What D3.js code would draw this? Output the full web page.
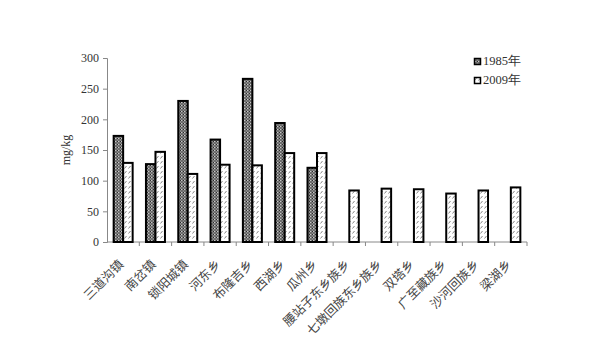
<!DOCTYPE html>
<html><head><meta charset="utf-8">
<script src="https://cdn.jsdelivr.net/npm/d3@7"></script>
<style>
html,body{margin:0;padding:0;background:#fff;}
svg{display:block;}
</style></head>
<body>
<svg id="c" width="609" height="356"></svg>
<script>
const categories = ["三道沟镇","南岔镇","锁阳城镇","河东乡","布隆吉乡","西湖乡","瓜州乡","腰站子东乡族乡","七墩回族东乡族乡","双塔乡","广至藏族乡","沙河回族乡","梁湖乡"];
const series = ["1985年","2009年"];
const values1985 = [173,127,230,167,266,194,121,0,0,0,0,0,0];
const values2009 = [129,147,111,126,125,145,145,84,87,86,79,84,89];
const yTicks = [0,50,100,150,200,250,300];
const yLabel = "mg/kg";

(function(){
const svg = d3.select("#c");
const defs = svg.append("defs");
const p1 = defs.append("pattern").attr("id","p1985").attr("patternUnits","userSpaceOnUse").attr("width",3).attr("height",3);
p1.append("rect").attr("width",3).attr("height",3).attr("fill","#858585");
p1.append("rect").attr("x",0).attr("y",0).attr("width",1).attr("height",1).attr("fill","#2a2a2a");
p1.append("rect").attr("x",1.5).attr("y",1.5).attr("width",1).attr("height",1).attr("fill","#2a2a2a");
p1.append("rect").attr("x",1).attr("y",0).attr("width",1).attr("height",1).attr("fill","#c8c8c8");
const p2 = defs.append("pattern").attr("id","p2009").attr("patternUnits","userSpaceOnUse").attr("width",4).attr("height",5);
p2.append("rect").attr("width",4).attr("height",5).attr("fill","#fff");
p2.append("line").attr("x1",0.5).attr("y1",3.5).attr("x2",2.5).attr("y2",1).attr("stroke","#777").attr("stroke-width",0.9);

const mLeft = 107, mRight = 527, mTop = 58, mBottom = 242;
const x = d3.scaleBand().domain(categories).range([mLeft,mRight]).paddingInner(0).paddingOuter(0);
const y = d3.scaleLinear().domain([0,300]).range([mBottom,mTop]);
const barW = 9.5;
const inner = d3.scaleBand().domain(series).range([0,barW*2]);

const font = "'Liberation Serif','Times New Roman',serif";
const cjk = "'Noto Sans CJK SC',sans-serif";

const yAxis = svg.append("g").attr("transform",`translate(${mLeft},0)`)
  .call(d3.axisLeft(y).tickValues(yTicks).tickSize(4).tickPadding(4));
yAxis.select(".domain").attr("stroke","#888");
yAxis.selectAll(".tick line").attr("stroke","#888");
yAxis.selectAll(".tick text").attr("font-family",font).attr("font-size",12).attr("fill","#333");

const xg = svg.append("g").attr("transform",`translate(0,${mBottom})`);
xg.append("line").attr("x1",mLeft).attr("x2",mRight).attr("stroke","#888");
xg.selectAll("line.t").data(categories).enter().append("line").attr("class","t")
  .attr("x1",d=>x(d)+x.bandwidth()).attr("x2",d=>x(d)+x.bandwidth())
  .attr("y1",0).attr("y2",4).attr("stroke","#888");

const off = (x.bandwidth()-barW*2)/2;
const g = svg.append("g");
categories.forEach((c,i)=>{
  const vals = [values1985[i], values2009[i]];
  series.forEach((s,j)=>{
    const v = vals[j];
    if(!v) return;
    g.append("rect")
      .attr("x", x(c)+off+inner(s))
      .attr("y", y(v))
      .attr("width", inner.bandwidth())
      .attr("height", y(0)-y(v))
      .attr("fill", j===0 ? "url(#p1985)" : "url(#p2009)")
      .attr("stroke","#000").attr("stroke-width",2);
  });
});

svg.append("g").selectAll("text").data(categories).enter().append("text")
  .attr("transform", d=>`translate(${x(d)+x.bandwidth()/2-5},${mBottom+17}) rotate(-45)`)
  .attr("text-anchor","end").attr("dy","0.7em")
  .attr("font-family",cjk).attr("font-size",12.5).attr("fill","#444")
  .text(d=>d);

svg.append("text").attr("transform",`translate(70,${(mTop+mBottom)/2}) rotate(-90)`)
  .attr("text-anchor","middle").attr("font-family",font).attr("font-size",12).attr("fill","#333")
  .text(yLabel);

const lg = svg.append("g").attr("transform","translate(474,58)");
series.forEach((s,j)=>{
  const row = lg.append("g").attr("transform",`translate(0,${j*19})`);
  row.append("rect").attr("x",0.5).attr("y",0.5).attr("width",6).attr("height",6)
    .attr("fill", j===0 ? "url(#p1985)" : "url(#p2009)").attr("stroke","#000").attr("stroke-width",1.5);
  row.append("text").attr("x",9).attr("y",7).attr("font-family",font).attr("font-size",12.5).attr("fill","#333").text(s);
});
})();
</script>
</body></html>
